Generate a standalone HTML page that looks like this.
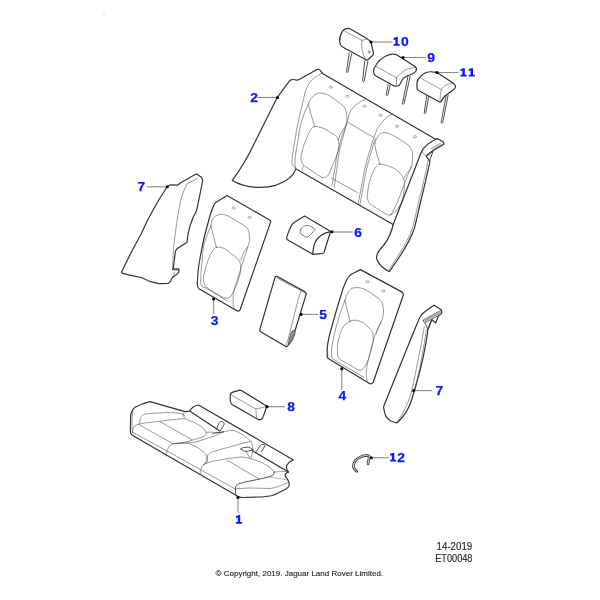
<!DOCTYPE html>
<html><head><meta charset="utf-8">
<style>
html,body{margin:0;padding:0;background:#fff;width:600px;height:600px;overflow:hidden}
svg{display:block;position:absolute;left:0;top:0;will-change:transform}
.o{fill:none;stroke:#333;stroke-width:1.2;stroke-linejoin:round;stroke-linecap:round}
.m{fill:none;stroke:#333;stroke-width:0.85;stroke-linejoin:round;stroke-linecap:round}
.i{fill:none;stroke:#555;stroke-width:0.6;stroke-linejoin:round;stroke-linecap:round}
.h{fill:none;stroke:#666;stroke-width:0.55}
.ld{fill:none;stroke:#8a8a8a;stroke-width:1.1}
.dot{fill:#000}
.lb{font-family:"Liberation Sans",sans-serif;font-weight:bold;font-size:13px;fill:#0a1aff;stroke:#0a1aff;stroke-width:0.25}
.lbp{fill:#0a1aff}
.tx{font-family:"Liberation Sans",sans-serif;font-size:9px;fill:#2a2a2a;stroke:#2a2a2a;stroke-width:0.15}
</style></head><body>
<svg width="600" height="600" viewBox="0 0 600 600">
<circle cx="104" cy="14" r="1" fill="#ddd"/>

<!-- ===== Headrest 10 ===== -->
<path class="o" d="M342.6,31.2 C343.5,29.5 346,28.3 349.1,28.3 L366.4,38.2 C368.5,39.5 370,41 371,42 L373.4,52.8 C373.6,54 373.2,54.8 372.6,55.4 L368.5,59.3 C367.5,60 366.8,60.2 366.4,60.1 L342.6,46.9 C341,46 340,44.5 339.6,41.5 C339.5,38 340,35 342.6,31.2 Z"/>
<path class="i" d="M344.7,31.2 L362,40.4 L367.5,38.8 M362,40.4 C361.3,44 361.6,49 363.1,53.4 C364,56.5 365.2,58.5 366.4,59.9"/>
<ellipse class="i" cx="369.1" cy="51.8" rx="0.9" ry="1.3"/>
<path class="m" d="M349.2,52.9 L346.5,71.6 C346.4,72.6 347.8,72.8 348,72 L351.6,53.6"/>
<path class="m" d="M364.8,60.6 L362.6,80.8 C362.6,81.7 364,81.8 364.2,81 L367.9,61.2"/>

<!-- ===== Headrest 9 ===== -->
<path class="o" d="M376,65 C378,61.5 382,58 386,56 C389,54.6 391,54.1 393,54.2 C395,54.2 396,54.5 397,55 L415,66.5 C416.5,67.6 416.8,69.2 416,71 C415,72.5 413.5,73.2 412,74 C409,75 407.5,75.5 406,76.5 C404,77.8 402.5,79 402,80 C401,82.5 400.5,84 399.5,84.8 C398.5,85.8 397,86.3 394.5,86.2 L376,76 C374.5,75 373.8,74 373.6,72.5 C373.4,70.5 374,67.5 376,65 Z"/>
<path class="i" d="M375.5,66 L396.5,78 C398.5,75.5 401,73 403,71.5 C406.5,69 410.5,68 414.5,67.5 M396.5,78 L396.5,85.5"/>
<path class="m" d="M388.2,84.3 L386.3,94.6 C386.2,95.6 387.6,95.8 387.8,95 L390.2,85"/>
<path class="m" d="M408,76.2 L402.4,103.4 C402.2,104.4 403.8,104.6 404,103.8 L410.2,76"/>
<path class="i" d="M403.2,99.5 L405,100.2"/>

<!-- ===== Headrest 11 ===== -->
<path class="o" d="M420,77 C421.5,75 423,74 425,73 C427.5,72 430,71.6 432,71.8 C434,71.9 436,72.2 437,72.5 L453,83 C455,84.5 455.7,85.6 455.5,87 C455.3,88.5 454,89.5 452,90.8 L445,96 C443.5,97.5 442.5,99 442,100 C441.5,101.5 441,102.2 440,102.2 L418.5,90.5 C417.5,89.8 417,89 417,88 L417,83 C417.2,80.5 418.5,78.5 420,77 Z"/>
<path class="i" d="M420.5,78 L441.5,89.5 C443,87.5 444.5,86 446,85 C448.5,83.7 451,83.3 454,83.5 M441.5,89.5 C440.5,93 440,97 440,101"/>
<path class="m" d="M426.8,95.7 L424.2,112.6 C424.1,113.6 425.5,113.8 425.7,113 L428.8,96.2"/>
<path class="m" d="M446.2,95.6 L441.1,122.2 C441,123.2 442.5,123.4 442.7,122.6 L448.1,95.4"/>

<!-- ===== Part 2: rear seat back ===== -->
<path class="o" d="M232.3,180.4 C240,170 248,157 255,142 L277.3,97.3 L289.3,81.1 C289.9,80.3 290.4,80 291,79.9 C292.3,79.5 293.2,79.4 294.2,79.6 C295.3,79.9 296.2,80.3 297.2,80.1 C298.2,79.9 299,79.5 300,78.9 L317.5,69.2 L320,70 L322.5,73.6 L436,139.4 L437.4,138.5 L443.3,142 L444,144 L442.7,145 L432,151.3 L427.3,154.7 L426.3,156.3 L430,161.3 C427,175 424,188 421,200 C418.5,211 416.5,220 414.5,228 C411,238 406,247 400,256 L389.5,271.7 C384,269 378.5,264 376.7,259 C375.8,255 379,250 383.5,245.5 C388,240 391.5,232 393.2,224.5 L295.7,168.7 C294,176 285,182 275.7,185.3 C263,189 245,188 232.3,180.4 Z"/>
<path class="o" d="M437,138.8 C431,141.5 426.5,145 423.3,148.7 C422,150.5 421,153 420,155.5 L393.2,224.5"/>
<path class="m" d="M426.3,156.3 L433,151.3 L429.7,160.7"/>
<path class="i" d="M441.5,144.5 L433,149.5 M440,143.5 L431,148.8"/>
<path class="i" d="M428,160.5 C425.5,174 422.5,187 419,200 C416.8,210 414.8,219 412.8,227 C409.5,237 404.5,246 398.5,255 L388.7,270.2"/>
<path class="i" d="M322,73 C318,75 314,78 311,81 C308.5,84 306.5,88 305,92 L304,97 C302.5,103 301.5,108 301,110 L298,123 L296.5,130 L295,140 L292.5,155 C292,158 292,161 292,162 C292.2,164 292.5,165 293,166 C294,167 295,167.7 296,168"/>
<path class="i" d="M303.5,166 L302,170"/>
<path class="i" d="M308,105 C309.5,100 312,96 317,93.5 C320,92.5 325,93 330,96 L343.3,105.8 C345,107.5 346,110 346.5,114 C347,117 347,120 346.5,123 C346,125 345,127 343.5,129 C341,132.5 339.5,135.5 338.3,140"/>
<path class="i" d="M308.5,105 L314.5,126.3"/>
<path class="i" d="M314.5,126.5 C318,126.3 322,127.5 326,129.5 L334.5,134.7 C336.5,136.5 337.8,138.3 338.2,140.2 C338.8,142 339.1,144 339.1,145.7 C338.5,152 336,158 333.3,163.3 C332.2,166.5 331,169.5 330,171.7 C329,174 328,175.8 326.7,176.7 C325,177.5 323.5,177.8 321.7,177.5 L306,167 C304.8,166.5 303.5,165.5 302.5,164 C301.8,163 301.2,161.5 301,159 C301,157 301.3,155 302,152 C302.5,150 303.5,146 305,142 C306,140 307,137 309,133 C309.5,131 310.5,129.5 312,128 C312.8,127.5 313.5,127 314.5,126.5 Z"/>
<path class="i" d="M308,105 C306.5,108 305,111 304,114 L301,123 L299.5,130 L298,140 L295.5,155 C295.2,158 295,160 295,162 C295,164.5 295.2,166 295.5,167 L296,168"/>
<path class="i" d="M365,99.5 C360,101.5 355,105 352,109 C350.5,111 349.5,113 349,115 L347.5,121 L345,128 L341,139 L337,155 L332,186"/>
<path class="i" d="M346.8,123.5 L343.8,134 L339.5,150 L334.2,187.2"/>
<path class="i" d="M347.8,122.3 L373.8,137.5"/>
<path class="i" d="M331.7,178.3 L357.5,192.5"/>
<path class="i" d="M392,114.5 C388,116 385,118.5 383,121 C381,123.5 379,126 377,129 C376,131.5 375.2,134 374.5,136 L373,140 L370,150 L367,160 L364.5,170 L358.3,203.3"/>
<path class="i" d="M375.3,138.5 L372,149 L369,159.5 L366.3,170 L360,204.3"/>
<path class="i" d="M375,143 C375.5,141 376,139.5 377,138 C378,136 379,135 380,134 C381.5,133 383,132.6 385,132.5 C387,132.6 388.5,133.2 390,134 L395,136.5 L408.3,145 C411,148 412.5,151 412.5,154 C412.5,159 412.5,163 411.7,166.7 C410.5,170 408,172 406.7,173.3 C405.5,175 404.5,177 404.2,178.3"/>
<path class="i" d="M375,143 C375,146 375.3,148 375.5,148.5 L377,155 L380,164.2"/>
<path class="i" d="M380,164.2 C386,164.5 392,167 396.7,170 C400,172.5 403,176 404.2,181 C405,190 403,200 400,205 C397,210 395,213 392.5,213.75 C390,215 388,215 387.5,215 L371.25,205 C368,202 367,199 367.5,195 C368,185 371,175 375,168 C377,166 378.5,164.5 380,164.2 Z"/>
<path class="i" d="M411,166.5 L404,185 L399,198 C396,206 393,212 390,216 M422,152 L426.3,156.3"/>
<g class="h"><ellipse cx="330.8" cy="87.2" rx="1.6" ry="1.05"/><ellipse cx="347.5" cy="96.3" rx="1.6" ry="1.05"/><ellipse cx="364.5" cy="106.2" rx="1.6" ry="1.05"/><ellipse cx="380.5" cy="115.3" rx="1.6" ry="1.05"/><ellipse cx="397" cy="126.3" rx="1.6" ry="1.05"/><ellipse cx="415" cy="136.7" rx="1.6" ry="1.05"/></g>

<!-- ===== Part 7 left ===== -->
<path class="o" d="M167.3,186.5 L170.4,184.8 L177.7,185.2 L179.8,183.3 L196.5,173.75 L201.7,177.5 L202.7,180.6 L199.6,196.25 L196.5,210.8 L193.3,217 L190.2,225.4 L188.1,233.75 L186.9,242.6 C183,245 179,247 176.7,249.2 C175.8,250 175.4,251 175.3,252 L173.3,268.3 L172.6,269.2 L178.3,268.8 C179,269.3 179.2,270 179,270.6 C178.7,271.8 178.3,272.6 177.9,273.3 C177,274.2 176.2,274.8 175.4,275.4 C174.2,276.2 173.2,276.8 172.5,277.5 C171.6,278.8 171,280.2 170.4,281.7 C169.8,282.5 169,283 168.3,283.3 L160,283.6 L157.9,283.4 L150.6,281.7 L141.25,277.5 L130.8,275.4 L122.5,273.3 L121.5,272.3 C128,258 135,245 141.25,233.75 C145,225 149,217 153.75,208.75 C158,201 163,193 167.3,186.5 Z"/>
<path class="i" d="M197.5,178.5 L187,183.75 C184,190 182,195 180.8,200.4 C178.5,210 177,220 176.7,223.3 C175,235 174,245 173.5,248.3 L172.5,269"/>
<path class="i" d="M173,270 L178.3,270.2 M174.2,272 L174,275"/>

<!-- ===== Part 3 ===== -->
<g id="p3">
<path class="o" d="M227,195.6 L269.7,220 C270.6,220.6 270.8,221.3 270.5,222.4 L240,310 C239,311 238,311.2 237.3,311 L199.3,289 C197.8,288 197.2,286 197.3,283.7 C197.5,276 198,268 200,258.3 C202,246 205,232 209.7,216.7 C211,212 212.3,208.7 214.3,204 C215.5,202.5 216.5,201.5 217.7,201.3 Z"/>
<path class="i" d="M211,226 C211.5,222 212,220 213,218.7 C214.5,216.5 216,215.5 217,215.3 C219,214.5 221,214.2 222.3,214.3 C224.5,214.6 226.5,215.2 228.3,216 L243,224.7 C245.5,226.2 247,227.5 247.7,228.7 C248.5,230 248.9,231.3 249,232.7 C249.5,236 249.5,238.5 249.4,240.7 C249.2,243 248.6,245 247.7,246.7 C246.5,248.6 245.3,250 244.3,251.3 C243,253.5 242,256.5 241,260"/>
<path class="i" d="M211,226 L216.3,247.3"/>
<path class="i" d="M216.3,247.3 C218,247 220,247 222,247.7 C225,248.5 228,250.5 230,253 C233,255 236.5,257.5 238.7,259.7 C240,262 240.6,264 240.7,266.3 C240.8,269 240.5,271.5 240,274.3 C238.5,279 237,284 235.3,287.7 C233.5,291.5 232,294.5 230.7,296.3 C229.5,297.7 228.5,298.3 227.3,298.3 C226,298.3 224.5,298.2 223.3,297.7 L210,289.7 C207.5,288 205.8,286.5 204.7,285 C203.8,283.5 203.3,281.5 203.3,279.7 C203.3,277.5 203.5,276 204,274.3 C205.5,268 207.5,261 210,255.7 C211.3,252.5 212.8,250.2 214,249 C214.8,248.1 215.5,247.6 216.3,247.3 Z"/>
<path class="i" d="M211,226 C208,232 206,238 204.3,243.3 C203,249 202.5,254 202.3,260 C201,270 200.5,278 200.8,284 C201.3,286.5 202.5,287.5 205.3,287.7 M205.3,287.7 L227.3,301"/>
<path class="i" d="M247.8,247 C246,253 244,258 242.5,263.3 L237.8,278.5 L234.3,289 C233.5,292 233.2,295 233.2,298.3 L233.2,305.3 C233.3,306.5 233.7,307.8 234.3,308.8"/>

<g class="h"><ellipse cx="233.7" cy="208" rx="1.7" ry="1.1"/><ellipse cx="249.7" cy="217.3" rx="1.7" ry="1.1"/></g>
</g>
<!-- ===== Part 4 (copy of part 3) ===== -->
<path class="o" d="M360.5,269.6 L402.2,292.1 C403,292.6 403.4,293.5 403.25,295.2 L373,382.7 C372,383.7 371,384 369.9,383.75 L330.3,359.8 C328.3,358.8 327.3,358 327.2,356.7 L327.2,348.3 C327.5,344 328.3,340 329.3,335.8 L334.5,317 C336.5,310 338.5,303 340.75,296.25 C342,291.5 343.3,287.5 344.9,283.75 C346,281 347,279 348,277.5 C349.5,275.5 351.2,274.2 353.25,273.3 Z"/>
<path class="i" d="M344.9,300.4 C346,297 347.3,293.5 349,291 C350.3,289.3 351.7,288.3 353.25,287.9 C355.5,287.5 358,287.5 360.5,287.9 C364,288.8 367,290.5 370,292.3 L378.25,298.3 C380.3,300 381.7,301.7 382.4,303.5 C383.2,305.8 383.5,308.3 383.5,310.8 C383.5,313.8 383.2,316.5 382.4,319.2 C381.6,321.5 380.5,323.5 379.3,325.4 C378,327.8 377,330.5 376.2,333.75"/>
<path class="i" d="M344.9,300.4 L350.1,321.25"/>
<path class="i" d="M350.1,321.25 C351.8,320.5 353.5,320.1 355.3,320.2 C358,320.4 361,321.5 363.5,323 L369.9,328.5 C371.5,330 372.5,331.8 373,333.75 C373.4,336.5 373.4,339.3 373,342 C372,347 370.8,352.5 369,357.5 C367.5,362 365.5,366 363,369 C362,370.2 361,370.6 359.8,370.4 C358.5,370 357.5,369.5 356,368.6 L340.75,360 C339,358.8 338,357 337.6,354.6 C337.3,351 337.3,347.5 337.6,344.2 C338.6,338 340.5,332 342.8,327.5 C344,325.3 345.5,324 347,323.3 C348,322.2 349,321.6 350.1,321.25 Z"/>
<path class="i" d="M344.9,300.4 C341,311 337,322 334.5,333.75 C332.8,341 331.5,347 331.4,352.5 C331.4,355 331.8,357 332.4,358.75 L364,377.5"/>
<path class="i" d="M381.25,321.25 C379,327 377,331 375,335 L370,352.5 L366.9,366.25 C366.3,370 366.2,373 366.25,376.25 C366.5,378 367,379.8 367.5,381.25"/>
<g class="h"><ellipse cx="367.4" cy="281.7" rx="1.7" ry="1.1"/><ellipse cx="383.5" cy="291" rx="1.7" ry="1.1"/></g>

<!-- ===== Part 6 ===== -->
<path class="o" d="M304.6,216.1 L330.7,231.4 C330.5,231.8 330.4,232 330.3,232.3 L324,252.5 C323.6,253 323.2,253.3 322.6,253.4 L313.2,254.3 C312.8,254.3 312.5,254.1 312.3,253.9 L287,239.5 C286.5,239 286.5,238.6 286.6,238.1 C287.4,235 288.2,232.5 289.3,230 C290.2,228 291,226 292,224.6 C293,223.3 294,222.5 294.7,221.9 Z"/>
<path class="o" d="M312.7,253.9 C313,250.5 313.5,247.5 314,245.3 C314.8,242.5 315.8,240.5 317.2,239 C318.5,237.4 320,236 321.7,235 C324.5,233.2 327,232.2 329.8,231.8"/>
<path class="i" style="stroke:#444;stroke-width:0.7" d="M301,229.1 C302,227.6 302.8,226.9 303.7,226.4 C305,225.6 306.2,225.3 307.3,225.3 C308.6,225.4 309.8,225.8 310.9,226.4 L315,229.1 C315.2,229.7 315,230.1 314.5,230.5 L310,235 C309,236.2 308,236.9 307.3,237.2 C306.4,237.2 305.5,236.8 304.6,236.3 L301,234 C300.4,233.3 300.1,232.6 300.1,231.8 C300.2,230.9 300.5,230 301,229.1 Z"/>

<!-- ===== Part 5 ===== -->
<path class="o" d="M277,276.3 L305,291.7 C305.8,292.2 306.3,292.8 306.3,293.8 L295,330.7 L287.7,346 C287.3,346.6 286.8,346.8 286.3,346.7 L261,332 C260.2,331.5 259.8,330.8 259.7,330 L275,277.3 C275.4,276.6 276.2,276.2 277,276.3 Z"/>
<path class="i" d="M277,278 L301,290.7 L305.5,293.2 M277.5,277.2 L304.5,292"/>
<path class="i" d="M301,291.5 C300,294.5 299,297.5 298,300 L293,320 L288,340 L285.8,346"/>
<path d="M291,332.5 C292,331 293.5,330 295,330.5 C295.5,332 295,334 294.3,336 C293.5,338.5 292.5,340.5 291,342.5 C290,344 289,345 288.5,344.5 C288.3,343 288.8,341 289.3,339 Z" fill="#777" stroke="#333" stroke-width="0.5"/>
<path d="M291.3,333.2 l2.8,-1.2 M290.6,335.6 l3,-1.3 M290,338 l2.8,-1.2 M289.5,340.4 l2.2,-1" stroke="#ddd" stroke-width="0.45" fill="none"/>

<!-- ===== Part 7 right ===== -->
<path class="o" d="M434,305.3 L440.7,309.3 C441.3,309.7 441.7,310.3 441.7,311 L441.7,313.3 C441.5,313.8 441.2,314.1 440.7,314.3 L438.7,315.3 L435.7,323 L432,319.7 L431.7,320 L428,329.3 C426,345 422,365 416,385 C414,392 412.5,397 411.9,399 C409.5,407.5 404,416 398.5,421.5 C397.5,422.5 397,423 396.7,423 L390.2,420.8 C387.5,419 385.5,416 384.8,413.2 L383.7,407.8 C383.5,407 383.6,406.3 384,405.5 L412,336 L418.7,320 C419.3,318.5 420,317 420.7,316 C421.5,315 422.3,314 423.3,313 C426.5,310.5 430.5,307.5 434,305.3 Z"/>
<path class="m" d="M424,322 C423.5,321.3 423.3,320.6 423.3,320 L440.7,310.5 M425,322.7 L440.7,314.3 M425,323 L428,329.3 L431.7,320"/>
<path d="M423.8,319.6 L440.5,310.3 L441.3,313.6 L425.3,322.5 Z" fill="#c4c4c4" stroke="none"/>
<path class="i" d="M424.3,319.6 L440.3,311 M424.8,321 L440.8,312.4" style="stroke:#777"/>
<path class="i" d="M424.3,326.7 C422,340 418,362 413,385 C410,400 404,413 396.5,422.3"/>
<path class="i" d="M426.3,330 C424,348 419,372 414.5,392"/>

<!-- ===== Part 8 ===== -->
<path class="o" d="M230.6,393.7 C231.2,393 232,392.5 232.9,392.1 L239.8,390.2 C240.3,390.1 240.8,390.3 241.3,390.6 L266.6,405.9 C266.7,406.4 266.5,407 266.3,407.5 L264.3,413.6 L262.8,417.4 C262.3,418.4 261.8,419 261.3,419.4 C260.3,419.7 259.2,419.7 258.2,419.4 C257.1,419 256,418.4 255.1,417.8 L232.1,404.4 C231.4,403.8 230.9,403 230.6,402.1 C230.2,400.5 230.1,399 230.2,397.5 C230.2,396 230.3,394.8 230.6,393.7 Z"/>
<path class="i" d="M231,394.8 L255.9,409 L265.9,406.7 M255.9,409 C256,412 256.2,415 256.7,417.8"/>

<!-- ===== Part 1: seat cushion ===== -->
<path class="o" d="M150,401.6 C144,403 139,405 135.5,407 C132.5,409 131,412 130.6,416 L130.4,431.5 C130.4,433.5 131,434.5 132.3,435.3 L235.5,495 C237,496.5 239,497.3 242,497.5 L260,497 C265,496.6 269,496.2 272,495.5 C274.5,494.8 276.5,494 278,493 L286,489 C288,487.8 289.2,486.5 289.3,485 C289.4,483 288.8,481.5 288,480 C287,478.5 285.8,477 285.3,476 C285,475 285.1,474.4 285.5,474 C286.5,473.2 287.5,472.6 288.5,472 L287,469.5 C286.2,468 286.3,466.5 287,465 C288,463.3 289.5,462 291,461 C292,460.5 293,460.2 293.5,460 L198.5,405 C195.5,405.3 193,406.8 191.5,408.6 C190.6,409.6 190.2,410.4 190,411.2 L185,411.6 Z"/>
<path class="o" d="M190,411.2 L219.5,430.8 M252.5,450.8 L288.5,472"/>
<!-- left end inner -->
<path class="i" d="M132.8,411.5 C131.9,416 131.9,425 132.4,432.5"/>
<!-- left wing -->
<path class="i" d="M139.8,423.5 C139.9,421 140.2,419 140.8,417.5 C141.5,416 142.5,415 145,414 L167,412.4 C172,412.6 177,413 181,413.6 C183,414.2 184,414.8 184.8,416 M185,411.6 C183.6,413 183,414 183,415 C183.3,416.3 184.2,417.4 185,418"/>
<!-- left pad -->
<path class="i" d="M132.6,432.5 C132.5,430 133,428 134.7,426 C135.8,425 137,424.5 138.8,424.25 L144.7,423 L159.7,421.3 L171,419.8 L183,418.6 C187,419 192,421.5 197,424 C201,426.3 204,428.5 205.5,431 C206.5,433 206.3,434.5 205,435.7 C203.5,436.8 202,437.2 201.7,437.3 L195,439.3 L188,441.5 C183,442.5 179,443 176,443.3 C174.8,443.4 173.8,443.6 173,443.8"/>
<path class="i" d="M138.8,424.5 L173,443.8 M159.7,421.3 L191.7,439.7"/>
<!-- front crease -->
<path class="i" d="M132.6,432.2 L166.3,450.6 L199.7,469.2 L235.3,489"/>
<!-- left/middle seam -->
<path class="i" d="M173,443.8 C171,444.8 169.5,446 168.5,447.5 C167.3,449.5 166.6,452 166.3,454.7 L166.2,456"/>
<!-- middle pad -->
<path class="i" d="M176,443.5 L195,442.3 L207,438.3 L215,435.7 L223,432.3 C226,431.2 228.3,430.6 230.5,430.4 C232.5,430.3 234.5,430.6 236,431.2 C240,433 244,435.5 246.5,437.6 C249,439.6 250.8,441.3 251.8,443 C252.4,445 252.7,448 253,451.3"/>
<path class="i" d="M206.3,432.3 L213,432.1"/>
<path class="m" d="M213,433.3 L223.7,431.7" style="stroke-width:1.1"/>
<path class="i" d="M173,443.8 L174.7,443.7 L186.7,443 C191,444 195,446 198.7,448.3 C201.5,450 203.8,451.8 205.3,453.7 C206.5,455.5 207,457 206.7,459 C206.3,461 205.3,462.8 204,464.3"/>
<path class="i" d="M250,441.5 L239,444.3 L224,448.5 L215,451 L210.3,452.7 C208.8,453.4 207.9,454.4 207.6,456 L207.2,462.3 C205,463.5 203,465.2 201.7,467 C200.9,469 200.6,471 200.8,474"/>
<!-- right pad -->
<path class="i" d="M203.5,464.6 C206.5,463.2 209,462.2 212,461.4 L221.7,459.7 L230,458.3 L240,457 C244,457.2 246,457.5 248,458 C252,459 255,460 258,461 C262,462.5 266,464.5 269,467 C271.5,469 273.5,470.5 274,472"/>
<path class="m" d="M274,472 C274.3,473.5 274,474.5 273,475 C271.5,476 270,476.5 268,477 L260,479 L250,481 C246,481.7 243,482.5 240,483.5 C238,484 236.5,485.2 235.6,486.8 L235.3,494"/>
<path class="i" d="M274,472 L288,471.3"/>
<path class="i" d="M227,460 L259,479"/>
<path class="i" d="M235.3,489.3 C237,488.7 238.5,488.5 240,488.5 L250,488 L270,488.5 C273,488 276,487.3 278,486.5 C282,485 285.5,483.8 288.5,482.5"/>
<path class="i" d="M268,477 C274,477.5 281,478.5 286.7,480 C287.5,480.5 288,481 288.3,481.7" style="stroke:#888"/>
<!-- buckles -->
<path class="m" d="M216.6,429 L218.9,423.3 C219.5,422 220.5,421.4 221.3,421.5 C222.5,421.5 223.6,422 223.9,423 C224.2,423.8 224.2,424.2 224,424.6 L220.1,430.8"/>
<path class="m" d="M256.3,451.3 L260.3,445.4 C261,444.6 262,444.2 263.3,444.3 C264.3,444.5 265,445 265,445.6 L261.5,451.8"/>
<path class="m" d="M241,449 C242,448 243,447.6 244,447.5 L248,447 C250,447.5 252,448.5 253,450 L246,451.5 C244,451 242.5,450.5 241,449 Z"/>
<path class="i" d="M246,451.5 L250,458.2 M253,450 L251,458"/>

<!-- ===== Part 12 ===== -->
<path d="M356.7,471.3 C354,469 353,467 353.5,465 C354.5,461 357,458.5 360,457.3 C362.5,456 365,455.3 366.7,455.3 C368.5,455.5 369.5,456.2 369.3,457 L368,464" style="fill:none;stroke:#444;stroke-width:2.7;stroke-linecap:round"/>
<path d="M356.7,471.3 C354,469 353,467 353.5,465 C354.5,461 357,458.5 360,457.3 C362.5,456 365,455.3 366.7,455.3 C368.5,455.5 369.5,456.2 369.3,457 L368,464" style="fill:none;stroke:#fff;stroke-width:0.8;stroke-linecap:round"/>

<!-- ===== Leaders ===== -->
<g class="ld">
<path d="M371,42 H392.5"/>
<path d="M403,57.5 H426"/>
<path d="M437,72.5 H458.5"/>
<path d="M277.5,97.5 H257.5"/>
<path d="M167.3,186.8 H146.8"/>
<path d="M332.3,232 H352.9"/>
<path d="M213.7,299 V314.3"/>
<path d="M301,314.4 H318"/>
<path d="M341.8,368.75 V390"/>
<path d="M413.6,390.6 H432.3"/>
<path d="M267,406.7 H284.8"/>
<path d="M238,497.5 V513"/>
<path d="M371.3,457.7 H388.7"/>
</g>
<g class="dot">
<circle cx="371" cy="42" r="1.55"/><circle cx="403" cy="57.5" r="1.55"/><circle cx="437" cy="72.5" r="1.55"/>
<circle cx="277.5" cy="97.5" r="1.55"/><circle cx="167.3" cy="186.8" r="1.55"/><circle cx="332" cy="231.8" r="1.55"/>
<circle cx="213.7" cy="299" r="1.55"/><circle cx="301" cy="314.4" r="1.55"/><circle cx="341.8" cy="368.75" r="1.55"/>
<circle cx="413.6" cy="390.6" r="1.55"/><circle cx="267" cy="406.7" r="1.55"/><circle cx="238" cy="497.5" r="1.55"/>
<circle cx="371.3" cy="457.7" r="1.55"/>
</g>

<!-- ===== Labels ===== -->
<g class="lbp">
<path d="M393.50,38.29 L396.00,37.10 H397.80 V43.96 H399.60 V45.80 H393.50 V43.96 H395.35 V39.49 L393.50,40.03 Z"/>
<path d="M460.50,69.35 L463.00,68.20 H464.80 V74.82 H466.60 V76.60 H460.50 V74.82 H462.35 V70.50 L460.50,71.03 Z"/>
<path d="M468.70,69.35 L471.20,68.20 H473.00 V74.82 H474.80 V76.60 H468.70 V74.82 H470.55 V70.50 L468.70,71.03 Z"/>
<path d="M235.90,516.29 L238.40,515.10 H240.20 V521.96 H242.00 V523.80 H235.90 V521.96 H237.75 V517.49 L235.90,518.03 Z"/>
<path d="M390.00,454.08 L392.50,452.90 H394.30 V459.68 H396.10 V461.50 H390.00 V459.68 H391.85 V455.26 L390.00,455.80 Z"/>
</g>
<g class="lb">
<text x="401" y="45.8" textLength="7.7" lengthAdjust="spacingAndGlyphs">0</text>
<text x="427.2" y="61.8" textLength="7.7" lengthAdjust="spacingAndGlyphs">9</text>
<text x="250.3" y="101.8" textLength="7.7" lengthAdjust="spacingAndGlyphs">2</text>
<text x="137.5" y="191" textLength="7.7" lengthAdjust="spacingAndGlyphs">7</text>
<text x="354.2" y="236.6" textLength="7.7" lengthAdjust="spacingAndGlyphs">6</text>
<text x="210.7" y="324.8" textLength="7.7" lengthAdjust="spacingAndGlyphs">3</text>
<text x="319.3" y="318.8" textLength="7.7" lengthAdjust="spacingAndGlyphs">5</text>
<text x="338.4" y="399.6" textLength="7.7" lengthAdjust="spacingAndGlyphs">4</text>
<text x="435.5" y="394.7" textLength="7.7" lengthAdjust="spacingAndGlyphs">7</text>
<text x="287.2" y="410.8" textLength="7.7" lengthAdjust="spacingAndGlyphs">8</text>
<text x="397.3" y="461.5" textLength="7.7" lengthAdjust="spacingAndGlyphs">2</text>
</g>

<text class="tx" x="436.6" y="549.9" style="font-size:10.3px" textLength="35.6" lengthAdjust="spacingAndGlyphs">14-2019</text>
<text class="tx" x="435.2" y="561.6" style="font-size:10px" textLength="37.3" lengthAdjust="spacingAndGlyphs">ET00048</text>
<text class="tx" x="215.6" y="575.5" style="font-size:8px" textLength="167.5" lengthAdjust="spacingAndGlyphs">© Copyright, 2019. Jaguar Land Rover Limited.</text>
<circle cx="477" cy="568" r="0.7" fill="#ccc"/>
</svg>
</body></html>
